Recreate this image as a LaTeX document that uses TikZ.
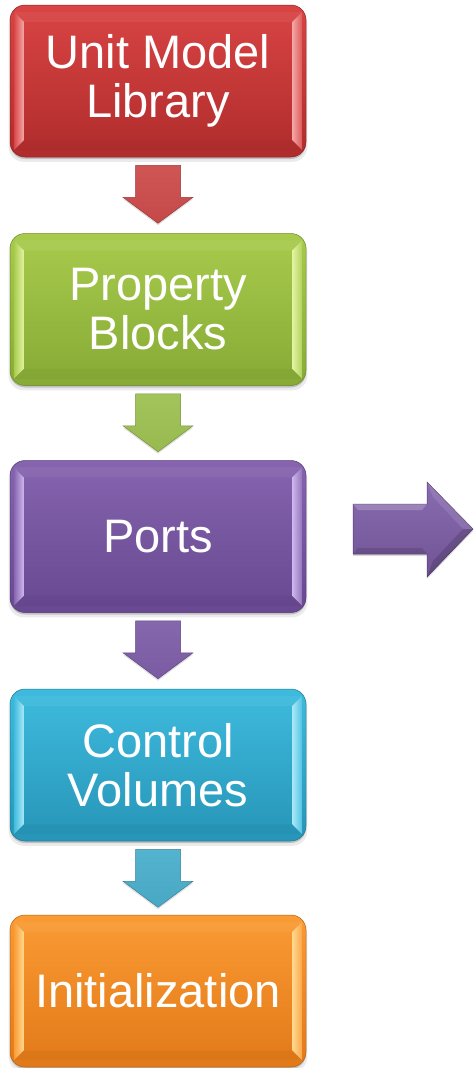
\documentclass[tikz,border=0pt]{standalone}
\usepackage{fontspec}
\setmainfont{Liberation Sans}
\usetikzlibrary{calc,shadows}

% palette: T = top, B = bottom, L = bevel highlight, A = block arrow
\definecolor{redT}{HTML}{D94444}\definecolor{redB}{HTML}{B02C2C}
\definecolor{redL}{HTML}{F4A6A6}\definecolor{redA}{HTML}{CD4C4C}
\definecolor{grnT}{HTML}{A8CB4D}\definecolor{grnB}{HTML}{86AA35}
\definecolor{grnL}{HTML}{E2F4A0}\definecolor{grnA}{HTML}{9EC152}
\definecolor{purT}{HTML}{8664AF}\definecolor{purB}{HTML}{684891}
\definecolor{purL}{HTML}{CDB6EE}\definecolor{purA}{HTML}{7F5FA9}
\definecolor{aquT}{HTML}{3EBBDE}\definecolor{aquB}{HTML}{2795B7}
\definecolor{aquL}{HTML}{A8E8F8}\definecolor{aquA}{HTML}{4BAFCC}
\definecolor{orgT}{HTML}{FA9B34}\definecolor{orgB}{HTML}{E27918}
\definecolor{orgL}{HTML}{FFD98E}

\tikzset{
  flowbox/.style={rounded corners=15pt, minimum width=296pt, minimum height=152pt,
    inner sep=0pt, text=white, align=center,
    font=\fontsize{47}{49}\selectfont,
    top color=#1T, bottom color=#1B, draw=#1B!80!black, line width=0.5pt,
    general shadow={shadow yshift=-2pt, fill=black, opacity=0.18},
    general shadow={shadow yshift=-4pt, shadow scale=1.01, fill=black, opacity=0.08}},
  blockarrow/.style={top color=#1!95!white, bottom color=#1!96!black,
    draw=#1!75!black, line width=0.5pt, line join=miter,
    general shadow={shadow yshift=-2pt, shadow xshift=0pt, fill=black, opacity=0.12}}
}

% bevelled edges inside a box node
\newcommand\boxbevel[2]{%
  \shade[left color=#2T, right color=#2L]
    ($(#1.north west)+(4,7)$) -- ($(#1.north west)+(14,17)$) --
    ($(#1.south west)+(14,-17)$) -- ($(#1.south west)+(4,-7)$) -- cycle;
  \shade[left color=#2L, right color=#2T!90!white]
    ($(#1.north east)+(-4,7)$) -- ($(#1.north east)+(-14,17)$) --
    ($(#1.south east)+(-14,-17)$) -- ($(#1.south east)+(-4,-7)$) -- cycle;
  \fill[#2T!75!white, opacity=0.2]
    ($(#1.north west)+(4,7)$) -- ($(#1.north west)+(14,17)$) --
    ($(#1.north east)+(-14,17)$) -- ($(#1.north east)+(-4,7)$) -- cycle;
  \fill[#2B!80!black, opacity=0.15]
    ($(#1.south west)+(4,-7)$) -- ($(#1.south west)+(14,-17)$) --
    ($(#1.south east)+(-14,-17)$) -- ($(#1.south east)+(-4,-7)$) -- cycle;
}

% downward block arrow hanging from a named top coordinate
\newcommand\downblock[2]{%
  \path[blockarrow=#2]
    ($(#1)+(-22.5,0)$) -- ($(#1)+(22.5,0)$) -- ($(#1)+(22.5,32)$) --
    ($(#1)+(35,32)$) -- ($(#1)+(0,58)$) -- ($(#1)+(-35,32)$) --
    ($(#1)+(-22.5,32)$) -- cycle;
}

\begin{document}
\begin{tikzpicture}[x=1pt,y=-1pt]
\useasboundingbox (0,0) rectangle (474,1068);

\node[flowbox=red] (b1) at (158,81)    {Unit Model\\Library};
\node[flowbox=grn] (b2) at (158,309.5) {Property\\Blocks};
\node[flowbox=pur] (b3) at (158,536.5) {Ports};
\node[flowbox=aqu] (b4) at (158,765)   {Control\\Volumes};
\node[flowbox=org] (b5) at (158,991)   {Initialization};

\boxbevel{b1}{red}
\boxbevel{b2}{grn}
\boxbevel{b3}{pur}
\boxbevel{b4}{aqu}
\boxbevel{b5}{org}

\coordinate (a1) at ($(b1.south)+(0,8)$);
\coordinate (a2) at ($(b2.south)+(0,8)$);
\coordinate (a3) at ($(b3.south)+(0,8)$);
\coordinate (a4) at ($(b4.south)+(0,8)$);
\downblock{a1}{redA}
\downblock{a2}{grnA}
\downblock{a3}{purA}
\downblock{a4}{aquA}

% right-pointing block arrow beside Ports
\coordinate (r0) at (353,529);
\path[top color=purA!92!white, bottom color=purA!88!black, draw=purA!65!black,
      line width=0.5pt, general shadow={shadow yshift=-2pt, fill=black, opacity=0.15}]
  ($(r0)+(0,-25)$) -- ($(r0)+(74,-25)$) -- ($(r0)+(74,-47)$) -- ($(r0)+(120,0)$) --
  ($(r0)+(74,48)$) -- ($(r0)+(74,25)$) -- ($(r0)+(0,25)$) -- cycle;
\fill[white, opacity=0.2]
  ($(r0)+(0,-25)$) -- ($(r0)+(74,-25)$) -- ($(r0)+(69,-19)$) -- ($(r0)+(5,-19)$) -- cycle;
\fill[black, opacity=0.12]
  ($(r0)+(0,25)$) -- ($(r0)+(74,25)$) -- ($(r0)+(69,19)$) -- ($(r0)+(5,19)$) -- cycle;
\fill[black, opacity=0.15]
  ($(r0)+(74,48)$) -- ($(r0)+(120,0)$) -- ($(r0)+(110,0)$) -- ($(r0)+(80,32)$) -- cycle;
\fill[white, opacity=0.1]
  ($(r0)+(74,-47)$) -- ($(r0)+(120,0)$) -- ($(r0)+(110,0)$) -- ($(r0)+(80,-32)$) -- cycle;
\end{tikzpicture}
\end{document}
